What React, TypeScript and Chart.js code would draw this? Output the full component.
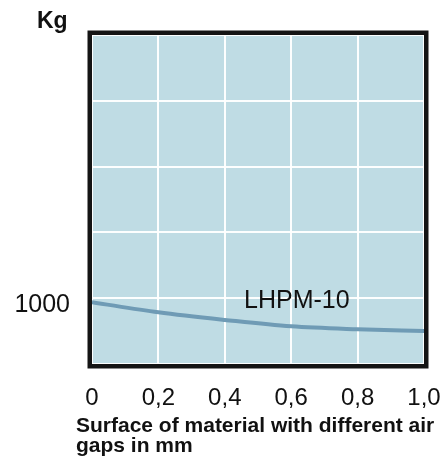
import React, { useEffect, useRef } from "react";
import { Chart, registerables } from "chart.js";

Chart.register(...registerables);

// Data
const AIR_GAP_MM = [0, 0.2, 0.4, 0.6, 0.8, 1.0];
const FORCE_KG = [970, 893, 835, 786, 764, 751];
const X_TICK_LABELS = ["0", "0,2", "0,4", "0,6", "0,8", "1,0"];
const Y_LABELED_TICKS = [1000];
const SERIES_NAME = "LHPM-10";
const Y_UNIT = "Kg";
const X_TITLE_LINES = ["Surface of material with different air", "gaps in mm"];

const FONT = "'Liberation Sans', Arial, Helvetica, sans-serif";

const framePlugin = {
  id: "frame",
  beforeDraw(chart: any) {
    const { ctx, chartArea: a } = chart;
    ctx.save();
    ctx.fillStyle = "#bfdce4";
    ctx.fillRect(a.left, a.top, a.right - a.left, a.bottom - a.top);
    ctx.restore();
  },
  afterDraw(chart: any) {
    const { ctx, chartArea: a } = chart;
    ctx.save();
    ctx.strokeStyle = "#141414";
    ctx.lineWidth = 4.5;
    ctx.strokeRect(a.left - 2.25, a.top - 2.25, a.right - a.left + 4.5, a.bottom - a.top + 4.5);

    ctx.fillStyle = "#111";
    ctx.textBaseline = "alphabetic";
    ctx.textAlign = "left";
    ctx.font = `bold 23px ${FONT}`;
    ctx.fillText(Y_UNIT, 37, 28);

    const xs = chart.scales.x;
    const ys = chart.scales.y;
    ctx.font = `25px ${FONT}`;
    ctx.fillText(SERIES_NAME, xs.getPixelForValue(0.458), ys.getPixelForValue(925));

    ctx.font = `bold 21px ${FONT}`;
    X_TITLE_LINES.forEach((line, i) => ctx.fillText(line, 76, 432 + i * 20));
    ctx.restore();
  },
};

export default function App() {
  const ref = useRef<HTMLCanvasElement | null>(null);
  useEffect(() => {
    if (!ref.current) return;
    const chart = new Chart(ref.current, {
      type: "line",
      data: {
        datasets: [
          {
            label: SERIES_NAME,
            data: AIR_GAP_MM.map((x, i) => ({ x, y: FORCE_KG[i] })),
            borderColor: "#6f9bb5",
            borderWidth: 4,
            pointRadius: 0,
            tension: 0.4,
            cubicInterpolationMode: "monotone",
            fill: false,
          },
        ],
      },
      options: {
        responsive: false,
        animation: false,
        layout: { padding: { top: 35, right: 22, left: 0, bottom: 0 } },
        plugins: { legend: { display: false }, tooltip: { enabled: false }, title: { display: false } },
        scales: {
          x: {
            type: "linear",
            min: 0,
            max: 1,
            border: { display: false },
            grid: { color: "rgba(255,255,255,0.95)", lineWidth: 2, drawTicks: false },
            ticks: {
              stepSize: 0.2,
              padding: 20,
              color: "#111",
              font: { family: FONT, size: 24 },
              maxRotation: 0,
              autoSkip: false,
              callback: (_v: any, i: number) => X_TICK_LABELS[i] ?? "",
            },
            afterFit: (s: any) => {
              s.height = 97;
              s.paddingLeft = 0;
              s.paddingRight = 0;
            },
          },
          y: {
            type: "linear",
            min: 500,
            max: 3000,
            border: { display: false },
            grid: { color: "rgba(255,255,255,0.95)", lineWidth: 2, drawTicks: false },
            ticks: {
              stepSize: 500,
              padding: 22,
              labelOffset: 7,
              color: "#111",
              font: { family: FONT, size: 25 },
              callback: (v: any) => (Y_LABELED_TICKS.includes(Number(v)) ? String(v) : ""),
            },
            afterFit: (s: any) => {
              s.width = 92;
              s.paddingTop = 0;
              s.paddingBottom = 0;
            },
          },
        },
      },
      plugins: [framePlugin],
    });
    return () => chart.destroy();
  }, []);
  return (
    <div style={{ position: "absolute", left: 0, top: 0, width: 446, height: 461, background: "#fff" }}>
      <canvas ref={ref} width={446} height={461} style={{ display: "block" }} />
    </div>
  );
}
